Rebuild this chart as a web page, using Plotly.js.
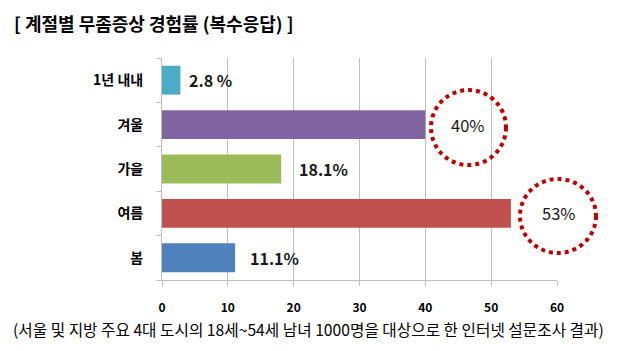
<!DOCTYPE html>
<html><head><meta charset="utf-8">
<script src="https://cdn.plot.ly/plotly-3.0.1.min.js"></script>
<style>body{margin:0;background:#fff}#c{width:619px;height:351px}</style>
</head><body><div id="c"></div>
<script>
const categories = ['봄', '여름', '가을', '겨울', '1년 내내'];
const values = [11.1, 53, 18.1, 40, 2.8];
const valueLabels = ['11.1%', '53%', '18.1%', '40%', '2.8 %'];
const barColors = ['#4f81bd', '#c0504d', '#9bbb59', '#8064a2', '#4bacc6'];
const xTicks = [0, 10, 20, 30, 40, 50, 60];
const titleText = '[ 계절별 무좀증상 경험률 (복수응답) ]';
const noteText = '(서울 및 지방 주요 4대 도시의 18세~54세 남녀 1000명을 대상으로 한 인터넷 설문조사 결과)';

const F = '"Noto Sans CJK KR", "Noto Sans", sans-serif';
const labelShift = [13, 29, 16, 24, 7];
const labelBold = [true, false, true, false, true];

const annotations = categories.map((c, i) => ({
  x: values[i], y: c, xref: 'x', yref: 'y',
  text: labelBold[i] ? '<b>' + valueLabels[i] + '</b>' : valueLabels[i],
  showarrow: false, xanchor: 'left', xshift: labelShift[i],
  font: {family: F, size: labelBold[i] ? 16 : 16.5, color: '#1a1a1a'}
}));
annotations.push({
  xref: 'paper', yref: 'paper', x: (12-162)/395, y: 1 + (58-23)/222, xanchor: 'left', yanchor: 'middle',
  text: '<b>' + titleText + '</b>', showarrow: false,
  font: {family: F, size: 18, color: '#000'}
});
annotations.push({
  xref: 'paper', yref: 'paper', x: (308-162)/395, y: -(329-280)/222, xanchor: 'center', yanchor: 'middle',
  text: noteText, showarrow: false,
  font: {family: F, size: 15.7, color: '#000'}
});

const circ = (x0, x1, y0, y1) => ({
  type: 'circle', xref: 'paper', yref: 'paper', x0, x1, y0, y1,
  line: {color: '#c00000', width: 4, dash: 'dot'}
});

const data = [{
  type: 'bar', orientation: 'h', y: categories, x: values,
  marker: {color: barColors}, width: 0.65, hoverinfo: 'none'
}];

const layout = {
  width: 619, height: 351,
  margin: {l: 162, r: 62, t: 58, b: 71},
  paper_bgcolor: '#fff', plot_bgcolor: '#fff',
  showlegend: false,
  xaxis: {
    range: [0, 60], tickvals: xTicks, ticktext: xTicks.map(v => '<b>' + v + '</b>'),
    showgrid: true, gridcolor: '#bfbfbf', gridwidth: 1, zeroline: false,
    showline: true, linecolor: '#bfbfbf', ticks: 'outside', ticklen: 5, tickcolor: '#bfbfbf',
    ticklabelstandoff: 12,
    tickfont: {family: F, size: 12, color: '#000'}, fixedrange: true
  },
  yaxis: {
    type: 'category', categoryorder: 'array', categoryarray: categories,
    showline: true, linecolor: '#bfbfbf', ticks: 'outside', tickson: 'boundaries', ticklen: 5, tickcolor: '#bfbfbf',
    ticklabelstandoff: 15,
    tickvals: categories, ticktext: categories.map(c => '<b>' + c + '</b>'),
    tickfont: {family: F, size: 14, color: '#000'}, fixedrange: true
  },
  annotations,
  shapes: [
    circ((431-162)/395, (506-162)/395, (280-165)/222, (280-90)/222),
    circ((520-162)/395, (596-162)/395, (280-253)/222, (280-179)/222)
  ]
};
Plotly.newPlot('c', data, layout, {displayModeBar: false, staticPlot: true});
</script></body></html>
